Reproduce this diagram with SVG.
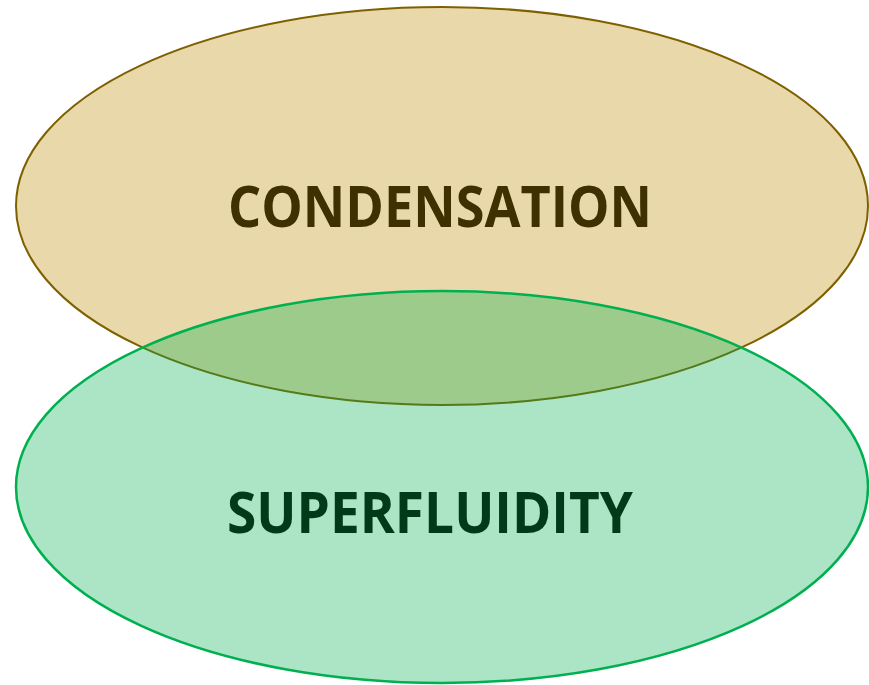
<svg xmlns="http://www.w3.org/2000/svg" width="869" height="685" viewBox="0 0 869 685">
<style>
.lbl{font-family:"Open Sans","Liberation Sans",sans-serif;font-weight:bold;font-size:58px;text-anchor:middle}
</style>
<rect width="869" height="685" fill="#ffffff"/>
<g id="condensation">
<ellipse cx="442" cy="206" rx="426" ry="199" fill="#E9D9AA" stroke="#7F6000" stroke-width="2"/>
<text class="lbl" x="440" y="227" fill="#3F3000" textLength="424" lengthAdjust="spacingAndGlyphs">CONDENSATION</text>
</g>
<g id="superfluidity">
<ellipse cx="442" cy="487" rx="426" ry="196" fill="#00B050" fill-opacity="0.33" stroke="#00B050" stroke-width="2.5"/>
<text class="lbl" x="430" y="533" fill="#003A18" textLength="406" lengthAdjust="spacingAndGlyphs">SUPERFLUIDITY</text>
</g>
<g id="connectors"/>
</svg>
